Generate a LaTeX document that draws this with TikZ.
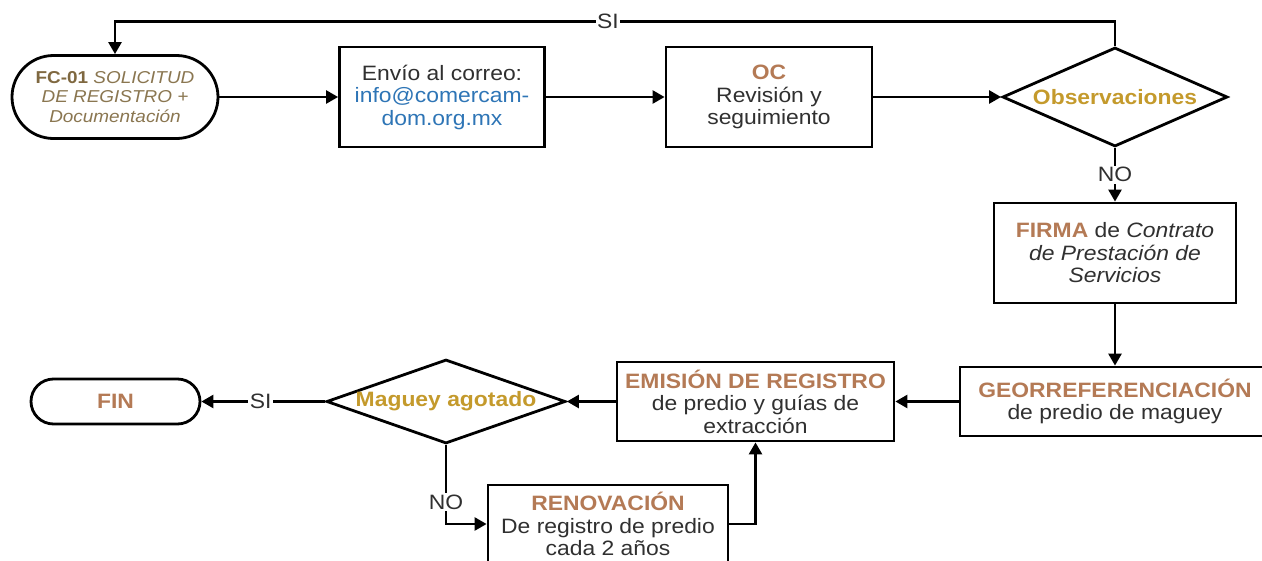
\documentclass[tikz,border=0pt]{standalone}
\usepackage{fontspec}
\setmainfont[FakeStretch=1.1]{Liberation Sans}
\usetikzlibrary{shapes.geometric,shapes.misc,arrows.meta}
\definecolor{txt}{HTML}{303030}
\definecolor{keyc}{HTML}{B47A55}
\definecolor{goldc}{HTML}{C49A2C}
\definecolor{olivec}{HTML}{7F6840}
\definecolor{olivei}{HTML}{8A7650}
\definecolor{mailc}{HTML}{2E75B6}
\newcommand{\mainfs}{\fontsize{20.8}{22.5}\selectfont}
\newcommand{\smallfs}{\fontsize{17.2}{19.5}\selectfont}
\newcommand{\kw}[1]{\textbf{\textcolor{keyc}{#1}}}
\tikzset{
  proc/.style={draw=black, line width=2.8pt, rectangle, fill=white, align=center, inner sep=2pt, font=\mainfs, text=txt},
  term/.style={draw=black, line width=2.8pt, rounded rectangle, fill=white, align=center, inner sep=2pt},
  dec/.style={draw=black, line width=2.8pt, diamond, aspect=3, fill=white, inner sep=0pt, align=center, font=\mainfs\bfseries, text=goldc},
  conn/.style={draw=black, line width=2.5pt, -{Triangle[length=12pt,width=13pt]}},
  lbl/.style={fill=white, inner sep=1.5pt, font=\mainfs, text=txt},
}
\begin{document}
\begin{tikzpicture}[x=1pt,y=-1pt]
\useasboundingbox (0,0) rectangle (1262,560);

% nodes
\node[term, minimum width=210pt, minimum height=83pt, font=\smallfs] (fc) at (115,97)
  {\textbf{\textcolor{olivec}{FC-01}}\ \textit{\textcolor{olivei}{SOLICITUD}}\\
   \textit{\textcolor{olivei}{DE REGISTRO +}}\\
   \textit{\textcolor{olivei}{Documentación}}};
\node[proc, minimum width=205pt, minimum height=100pt] (envio) at (442,97)
  {Envío al correo:\\ \textcolor{mailc}{info@comercam-}\\ \textcolor{mailc}{dom.org.mx}};
\node[proc, minimum width=206pt, minimum height=100pt] (oc) at (769,97)
  {\kw{OC}\\ Revisión y\\ seguimiento};
\node[dec, minimum width=225pt, minimum height=99pt] (obs) at (1115,97) {Observaciones};
\node[proc, minimum width=242pt, minimum height=100pt] (firma) at (1115,253)
  {\kw{FIRMA} de \textit{Contrato}\\ \textit{de Prestación de}\\ \textit{Servicios}};
\node[proc, minimum width=310pt, minimum height=69pt] (geo) at (1115,401.5)
  {\kw{GEORREFERENCIACIÓN}\\ de predio de maguey};
\node[proc, minimum width=277pt, minimum height=79pt] (emis) at (755.5,401.5)
  {\kw{EMISIÓN DE REGISTRO}\\ de predio y guías de\\ extracción};
\node[dec, minimum width=235pt, minimum height=84pt] (mag) at (446,401.5) {Maguey agotado};
\node[term, minimum width=173pt, minimum height=45pt, font=\mainfs] (fin) at (115.5,401.5) {\kw{FIN}};
\node[proc, minimum width=240pt, minimum height=78pt] (reno) at (608,524)
  {\kw{RENOVACIÓN}\\ De registro de predio\\ cada 2 años};

% helper coordinates
\coordinate (loopR) at (1115,21.7);
\coordinate (loopL) at (115,21.7);

% connectors
\draw[conn] (fc.east) -- (envio.west);
\draw[conn] (envio.east) -- (oc.west);
\draw[conn] (oc.east) -- (obs.west);
\draw[conn] (obs.north) -- (loopR) -- node[lbl, pos=0.507] (siTop) {SI} (loopL) -- (fc.north);
\draw[conn] (obs.south) -- node[lbl] (noObs) {NO} (firma.north);
\draw[conn] (firma.south) -- (geo.north);
\draw[conn] (geo.west) -- (emis.east);
\draw[conn] (emis.west) -- (mag.east);
\draw[conn] (mag.west) -- node[lbl, pos=0.52] (siMag) {SI} (fin.east);
\draw[conn] (mag.south) |- node[lbl, pos=0.36] (noMag) {NO} (reno.west);
\draw[conn] (reno.east) -| (emis.south);
\end{tikzpicture}
\end{document}
